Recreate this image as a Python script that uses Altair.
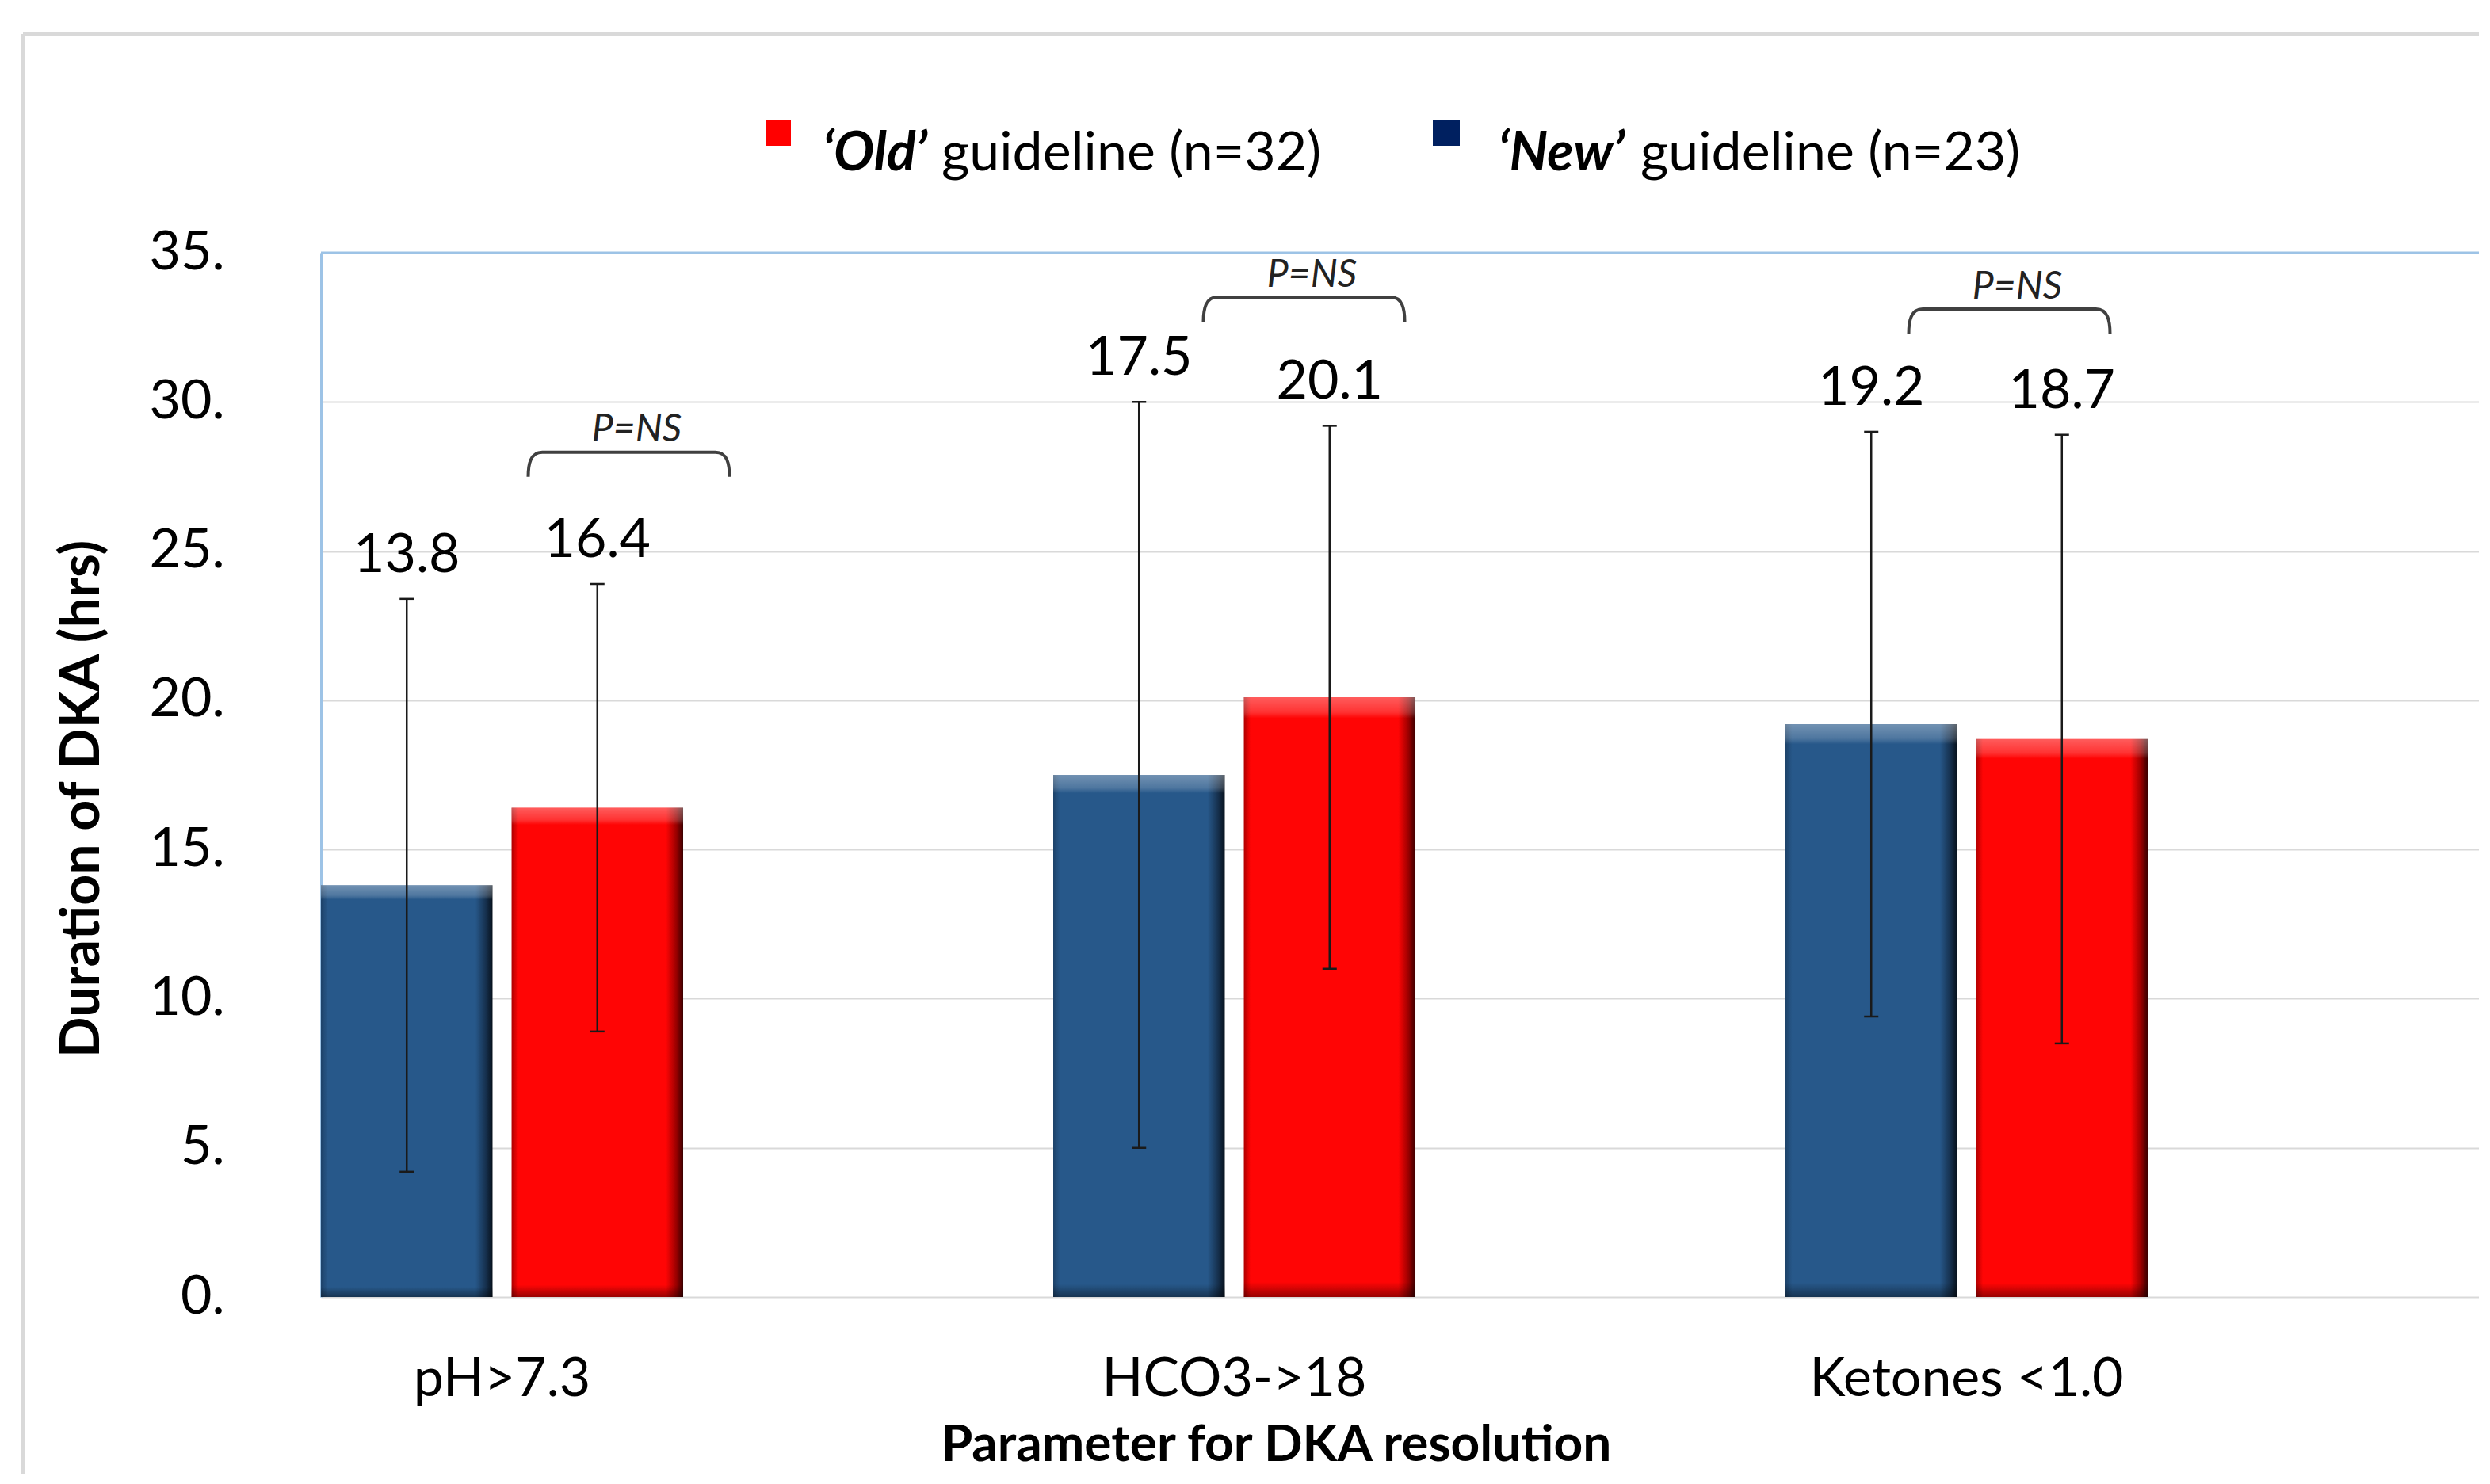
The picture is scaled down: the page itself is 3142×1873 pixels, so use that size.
import altair as alt
import pandas as pd

# ---------------- data ----------------
categories = ["pH>7.3", "HCO3->18", "Ketones <1.0"]
series_order = ["New", "Old"]          # bar order inside each group (blue first)
new_mean = [13.8, 17.5, 19.2]
new_sd = [9.6, 12.5, 9.8]
old_mean = [16.4, 20.1, 18.7]
old_sd = [7.5, 9.1, 10.2]
y_ticks = [0, 5, 10, 15, 20, 25, 30, 35]

legend_bold = ["‘Old’", "‘New’"]
legend_rest = ["guideline (n=32)", "guideline (n=23)"]

p_labels = ["P=NS", "P=NS", "P=NS"]
p_level = [27.9, 33.1, 32.7]     # bracket level (hrs)
p_shift = [160, 88, 54]          # bracket shift from group centre (px)

# ---------------- layout ----------------
W, H = 2723, 1318
PAD_L, PAD_T, PAD_B = 397, 311, 224
STEP = 924.0
P_IN = 0.5054
P_OUT = (W / STEP - 3 + P_IN) / 2
BANDWIDTH = STEP * (1 - P_IN)

FONT = "Lato"
FS = 68

rows = []
for i, c in enumerate(categories):
    rows.append(dict(cat=c, series="New", mean=new_mean[i], sd=new_sd[i]))
    rows.append(dict(cat=c, series="Old", mean=old_mean[i], sd=old_sd[i]))
df = pd.DataFrame(rows)
df["lo"] = df["mean"] - df["sd"]
df["hi"] = df["mean"] + df["sd"]
df["label"] = df["mean"].map(lambda v: f"{v:.1f}")

bdf = pd.DataFrame(dict(cat=categories, shift=p_shift, level=p_level, text=p_labels))
one = pd.DataFrame({"k": [0]})

xscale = alt.Scale(domain=categories, paddingInner=P_IN, paddingOuter=P_OUT, align=0)
yscale = alt.Scale(domain=[0, 35], nice=False, zero=True)
xoff = alt.XOffset("series:N", scale=alt.Scale(domain=series_order, paddingInner=0.1, paddingOuter=0))

xaxis = alt.Axis(
    title="Parameter for DKA resolution", labelFont=FONT, labelFontSize=FS, labelColor="black",
    labelAngle=0, labelBaseline="alphabetic", labelPadding=124, labelLimit=0, ticks=False, tickSize=0,
    domain=False, grid=False, titleFont=FONT, titleFontSize=64, titleFontWeight="bold",
    titleColor="black", titleX=1205, titleY=206, titleBaseline="alphabetic", titleAlign="center",
)
yaxis = alt.Axis(
    title="Duration of DKA (hrs)", values=y_ticks, labelExpr="datum.value + '.'",
    labelFont=FONT, labelFontSize=FS, labelColor="black", labelPadding=122,
    ticks=False, tickSize=0, domainColor="#9dc3e6", domainWidth=3,
    gridColor="#d9d9d9", gridWidth=2, titleFont=FONT, titleFontSize=FS,
    titleFontWeight="bold", titleColor="black", titleAngle=270, titleX=-301, titleY=689,
    titleAlign="center", titleBaseline="middle",
)

X = alt.X("cat:N", scale=xscale, axis=xaxis)


def Y(field):
    return alt.Y(field, scale=yscale, axis=yaxis)


def hgrad(stops):
    return {"gradient": "linear", "x1": 0, "x2": 1, "y1": 0, "y2": 0,
            "stops": [{"offset": o, "color": c} for o, c in stops]}


blue_fill = hgrad([(0, "#1d4269"), (0.04, "#27588a"), (0.9, "#27588a"), (0.96, "#16314f"), (1, "#07111c")])
red_fill = hgrad([(0, "#b00000"), (0.04, "#ff0505"), (0.9, "#ff0505"), (0.96, "#9a0000"), (1, "#3a0000")])
vgrad = {"gradient": "linear", "x1": 0, "x2": 0, "y1": 0, "y2": 1,
         "stops": [{"offset": 0, "color": "rgba(255,255,255,0.35)"},
                   {"offset": 0.025, "color": "rgba(255,255,255,0.18)"},
                   {"offset": 0.035, "color": "rgba(255,255,255,0)"},
                   {"offset": 0.975, "color": "rgba(0,0,0,0)"},
                   {"offset": 1, "color": "rgba(0,0,0,0.4)"}]}

bars_new = alt.Chart(df).transform_filter(alt.datum.series == "New").mark_bar(fill=blue_fill).encode(
    x=X, xOffset=xoff, y=Y("mean:Q"),
)
bars_old = alt.Chart(df).transform_filter(alt.datum.series == "Old").mark_bar(fill=red_fill).encode(
    x=X, xOffset=xoff, y=Y("mean:Q"),
)
bars_shade = alt.Chart(df).mark_bar(fill=vgrad).encode(
    x=X, xOffset=xoff, y=Y("mean:Q"),
)

ERR = "#1a1a1a"
err = alt.Chart(df).mark_rule(color=ERR, strokeWidth=2.5).encode(
    x=X, xOffset=xoff, y=Y("lo:Q"), y2="hi:Q",
)
cap_hi = alt.Chart(df).mark_tick(color=ERR, size=18, thickness=2.5, orient="horizontal", opacity=1).encode(
    x=X, xOffset=xoff, y=Y("hi:Q"),
)
cap_lo = alt.Chart(df).mark_tick(color=ERR, size=18, thickness=2.5, orient="horizontal", opacity=1).encode(
    x=X, xOffset=xoff, y=Y("lo:Q"),
)
vlabels = alt.Chart(df).mark_text(font=FONT, fontSize=FS, color="black", baseline="alphabetic", dy=-34).encode(
    x=X, xOffset=xoff, y=Y("hi:Q"), text="label:N",
)

bracket_path = "M-1,0.122 C-1,0 -0.98,-0.122 -0.86,-0.122 L0.86,-0.122 C0.98,-0.122 1,0 1,0.122"
brackets = alt.Chart(bdf).transform_calculate(dx=f"datum.shift + {BANDWIDTH / 2}").mark_point(
    shape=bracket_path, size=64516, filled=False, color="#404040", strokeWidth=4, opacity=1
).encode(
    x=X, xOffset=alt.XOffset("dx:Q", scale=None), y=Y("level:Q"),
)
ptext = alt.Chart(bdf).transform_calculate(dx=f"datum.shift + {BANDWIDTH / 2}").mark_text(
    font=FONT, fontSize=48, fontStyle="italic", color="#222222", baseline="alphabetic", dx=10, dy=-29
).encode(
    x=X, xOffset=alt.XOffset("dx:Q", scale=None), y=Y("level:Q"), text="text:N",
)

# plot frame top (blue) and outer chart frame (grey)
top_border = alt.Chart(one).mark_rule(color="#9dc3e6", strokeWidth=3).encode(
    x=alt.value(0), x2=alt.value(W), y=alt.value(0))
frame_top = alt.Chart(one).mark_rule(color="#d9d9d9", strokeWidth=4).encode(
    x=alt.value(-376), x2=alt.value(W), y=alt.value(-276))
frame_left = alt.Chart(one).mark_rule(color="#d9d9d9", strokeWidth=4).encode(
    x=alt.value(-376), y=alt.value(-276), y2=alt.value(H + PAD_B))

# legend
leg_sq_old = alt.Chart(one).mark_rect(color="#ff0000").encode(
    x=alt.value(561), x2=alt.value(593), y=alt.value(-168), y2=alt.value(-135))
leg_sq_new = alt.Chart(one).mark_rect(color="#002060").encode(
    x=alt.value(1403), x2=alt.value(1437), y=alt.value(-168), y2=alt.value(-135))
leg_b_old = alt.Chart(one).mark_text(text=legend_bold[0], font=FONT, fontSize=FS, fontWeight="bold",
                                     fontStyle="italic", align="right", baseline="alphabetic",
                                     color="black").encode(x=alt.value(765), y=alt.value(-104))
leg_r_old = alt.Chart(one).mark_text(text=legend_rest[0], font=FONT, fontSize=FS, align="left",
                                     baseline="alphabetic", color="black").encode(
    x=alt.value(783), y=alt.value(-104))
leg_b_new = alt.Chart(one).mark_text(text=legend_bold[1], font=FONT, fontSize=FS, fontWeight="bold",
                                     fontStyle="italic", align="right", baseline="alphabetic",
                                     color="black").encode(x=alt.value(1645), y=alt.value(-104))
leg_r_new = alt.Chart(one).mark_text(text=legend_rest[1], font=FONT, fontSize=FS, align="left",
                                     baseline="alphabetic", color="black").encode(
    x=alt.value(1665), y=alt.value(-104))

chart = alt.layer(
    bars_new, bars_old, bars_shade, err, cap_hi, cap_lo, vlabels, brackets, ptext,
    top_border, frame_top, frame_left,
    leg_sq_old, leg_sq_new, leg_b_old, leg_r_old, leg_b_new, leg_r_new,
).properties(
    width=W, height=H,
    autosize=alt.AutoSizeParams(type="none"),
    padding={"left": PAD_L, "top": PAD_T, "right": 0, "bottom": PAD_B},
).configure(background="white").configure_view(stroke=None)

chart.save("out.html", embed_options={"renderer": "svg", "actions": False})
